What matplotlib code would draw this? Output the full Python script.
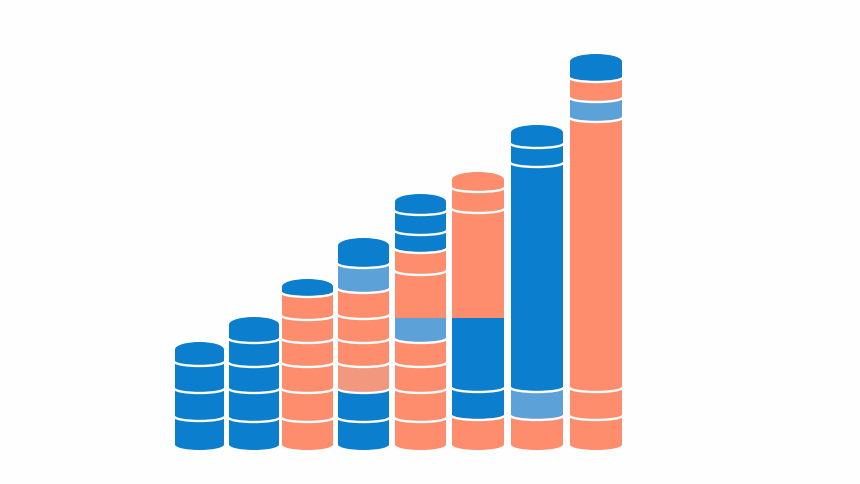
import matplotlib
matplotlib.use("Agg")
import matplotlib.pyplot as plt
from matplotlib.patches import Arc, Ellipse

BLUE = '#0b7ecd'
ORANGE = '#fd8d6d'
LIGHT_BLUE = '#5ca2d8'
PALE_ORANGE = '#f2987f'

# cumulative height of each segment top, from the bottom of the stack up
stack1_tops = [29, 57, 84, 108]
stack2_tops = [28, 57, 83, 107, 133]
stack3_tops = [28, 57, 83, 107, 130, 153, 171]
stack4_tops = [28, 57, 83, 107, 131, 157, 182, 212]
stack5_tops = [28, 57, 83, 107, 132, 175, 197, 215, 235, 256]
stack6_tops = [30, 58, 132, 237, 258, 278]
stack7_tops = [30, 58, 283, 302, 325]
stack8_tops = [30, 58, 328, 348, 368, 396]

stack1_colors = ['b', 'b', 'b', 'b']
stack2_colors = ['b', 'b', 'b', 'b', 'b']
stack3_colors = ['o', 'o', 'o', 'o', 'o', 'o', 'b']
stack4_colors = ['b', 'b', 'p', 'o', 'o', 'o', 'l', 'b']
stack5_colors = ['o', 'o', 'o', 'o', 'l', 'o', 'o', 'b', 'b', 'b']
stack6_colors = ['o', 'b', 'b', 'o', 'o', 'o']
stack7_colors = ['o', 'l', 'b', 'b', 'b']
stack8_colors = ['o', 'o', 'o', 'l', 'o', 'b']

# segments that meet the one above with a straight edge: (stack, segment)
flat_joins = [(4, 4), (5, 2)]

all_tops = [stack1_tops, stack2_tops, stack3_tops, stack4_tops,
            stack5_tops, stack6_tops, stack7_tops, stack8_tops]
all_colors = [stack1_colors, stack2_colors, stack3_colors, stack4_colors,
              stack5_colors, stack6_colors, stack7_colors, stack8_colors]

# layout, axes units are pixels of the figure
centers = [199.5, 254, 307.5, 363.5, 420.5, 478, 537, 596]
widths = [49, 50, 51, 51, 51, 52, 52, 52]
palette = {'b': BLUE, 'o': ORANGE, 'l': LIGHT_BLUE, 'p': PALE_ORANGE}
curve = 4.5
cap = 7.5

fig = plt.figure(figsize=(8.6, 4.84), dpi=100, facecolor='#fefefe')
ax = fig.add_axes([0, 0, 1, 1])
ax.set_xlim(0, 860)
ax.set_ylim(-34, 450)
ax.axis('off')

for i, tops in enumerate(all_tops):
    x = centers[i]
    w = widths[i]
    colors = all_colors[i]
    for j, top in enumerate(tops):
        c = palette[colors[j]]
        below = tops[j - 1] if j > 0 else 0
        flat = (i, j - 1) in flat_joins
        if flat:
            start = below
        elif j == 0:
            start = curve + 1
        else:
            start = below + curve + 1
        # body runs up past the joint, the next segment paints over it
        if j == len(tops) - 1:
            end = top - cap
        elif (i, j) in flat_joins:
            end = top
        else:
            end = top + curve + 1
        ax.bar(x, end - start, bottom=start, width=w, color=c, linewidth=0, zorder=2 + j)
        if not flat:
            ax.add_patch(Ellipse((x, start), w, 2 * (curve + (1 if j == 0 else 0)),
                                 color=c, lw=0, zorder=2 + j))
            if j > 0:
                ax.add_patch(Arc((x, start - 1), w + 1, 2 * curve, theta1=180, theta2=360,
                                 color='white', lw=1.7, zorder=2 + j))
        if j == len(tops) - 1:
            ax.add_patch(Ellipse((x, top - cap), w, 2 * cap, color=c, lw=0, zorder=2 + j))

fig.savefig('out.png', dpi=100, facecolor=fig.get_facecolor())
